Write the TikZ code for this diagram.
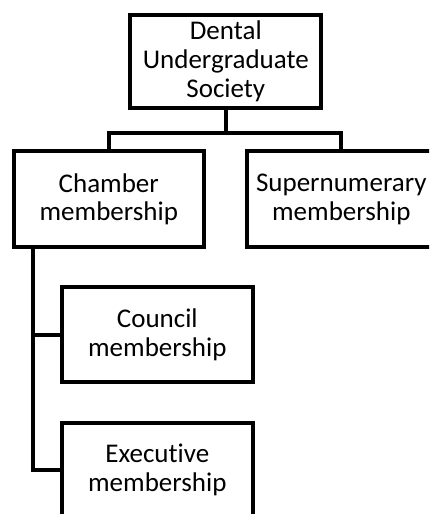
\documentclass[tikz,border=0pt]{standalone}
\usepackage{fontspec}
\setmainfont[RawFeature=-liga]{Carlito}
\usetikzlibrary{calc}
\begin{document}
\begin{tikzpicture}[x=1pt,y=-1pt,
  orgbox/.style={draw=black, line width=4pt, fill=white, rectangle, inner sep=0pt,
    align=center, font=\fontsize{27}{28.6}\selectfont, text=black},
  link/.style={draw=black, line width=4pt}]
  \useasboundingbox (0,0) rectangle (429,514);
  \clip (0,0) rectangle (429,514);
  \fill[white] (0,0) rectangle (429,514);

  % boxes
  \node[orgbox, minimum width=191pt, minimum height=93.3pt] (dus) at (225.8,61.3)
    {Dental\\Undergraduate\\Society};
  \node[orgbox, minimum width=190.3pt, minimum height=95.7pt] (chamber) at (108.8,199.2)
    {Chamber\\membership};
  \node[orgbox, minimum width=188.6pt, minimum height=95.7pt] (super) at (341.3,199.2)
    {Supernumerary\\membership};
  \node[orgbox, minimum width=190.7pt, minimum height=94.7pt] (council) at (157.3,334.7)
    {Council\\membership};
  \node[orgbox, minimum width=190.7pt, minimum height=93.4pt] (exec) at (157.3,470)
    {Executive\\membership};

  % junctions
  \coordinate (split) at (225.8,132.7);
  \coordinate (trunk) at (32.7,247);

  % connectors
  \draw[link] (dus.south) -- (split);
  \draw[link] (chamber.north) |- (split) -| (super.north);
  \draw[link] (trunk) |- (exec.west);
  \draw[link] (council.west) -- (council.west -| trunk);
\end{tikzpicture}
\end{document}
